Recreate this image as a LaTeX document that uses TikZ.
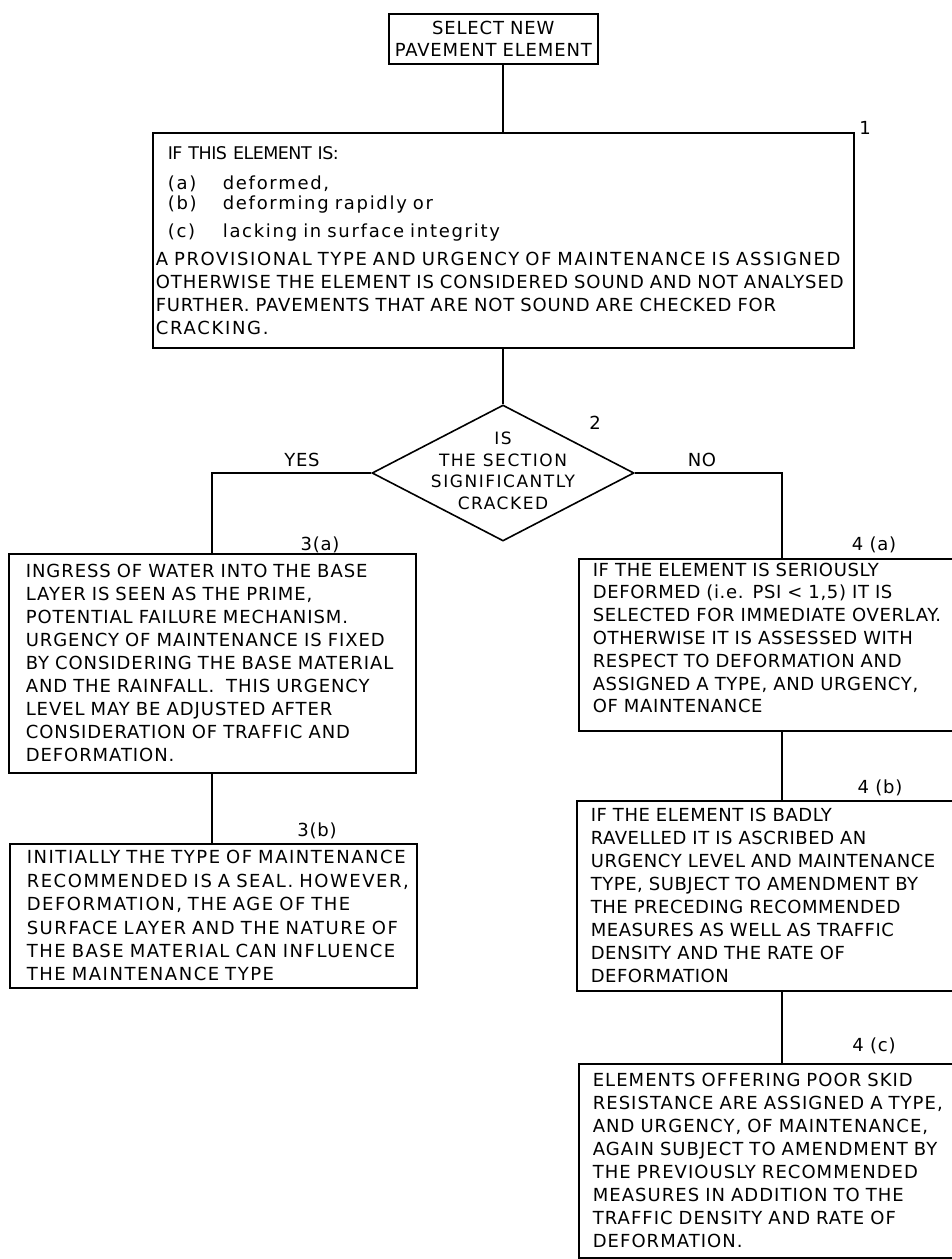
\documentclass[tikz,border=0pt]{standalone}
\usepackage{fontspec}
\usetikzlibrary{shapes.geometric}
\newfontfamily\fTop[LetterSpace=4.7]{DejaVu Sans}
\newfontfamily\fOne[LetterSpace=9.5]{DejaVu Sans}
\newfontfamily\fOneA[LetterSpace=9]{DejaVu Sans}
\newfontfamily\fOneB[LetterSpace=5.1]{DejaVu Sans}
\newfontfamily\fOneC[LetterSpace=4.5]{DejaVu Sans}
\newfontfamily\fOneD[LetterSpace=-3]{DejaVu Sans}
\newfontfamily\fDia[LetterSpace=9]{DejaVu Sans}
\newfontfamily\fThA[LetterSpace=5.2]{DejaVu Sans}
\newfontfamily\fThB[LetterSpace=8.5]{DejaVu Sans}
\newfontfamily\fFoA[LetterSpace=3.6]{DejaVu Sans}
\newfontfamily\fFoB[LetterSpace=3]{DejaVu Sans}
\newfontfamily\fFoC[LetterSpace=5.8]{DejaVu Sans}
\newfontfamily\fLbl[LetterSpace=4]{DejaVu Sans}
\newcommand{\oneline}[1]{\mbox{#1}}
\begin{document}
\begin{tikzpicture}[x=1pt,y=-1pt,
  box/.style={draw, line width=1.6pt, anchor=north west, align=left, inner ysep=0pt},
  lbl/.style={font=\fLbl\fontsize{18}{20}\selectfont, inner sep=0pt},
  conn/.style={line width=1.6pt}]
\useasboundingbox (0,0) rectangle (952,1259);

% top box
\node[box, align=center, minimum width=209pt, minimum height=50pt, text width=203pt, inner xsep=3pt,
      font=\fTop\fontsize{18}{22}\selectfont] (top) at (388,13) {\oneline{SELECT NEW}\\\oneline{PAVEMENT ELEMENT}};

% box 1
\node[box, minimum width=701pt, minimum height=215pt, text width=695pt, inner xsep=3pt,
      font=\fOne\fontsize{18}{23}\selectfont] (b1) at (152,132)
{\hspace*{12pt}\oneline{\fOneD\fontsize{17.5}{23}\selectfont IF THIS ELEMENT IS:}\\[7pt]
 \hspace*{12pt}\oneline{\makebox[55pt][l]{(a)}deformed,}\\[-3pt]
 \hspace*{12pt}\oneline{\makebox[55pt][l]{(b)}deforming rapidly or}\\[5pt]
 \hspace*{12pt}\oneline{\makebox[55pt][l]{(c)}lacking in surface integrity}\\[5pt]
 \oneline{\fOneA A PROVISIONAL TYPE AND URGENCY OF MAINTENANCE IS ASSIGNED}\\
 \oneline{\fOneB OTHERWISE THE ELEMENT IS CONSIDERED SOUND AND NOT ANALYSED}\\
 \oneline{\fOneC FURTHER. PAVEMENTS THAT ARE NOT SOUND ARE CHECKED FOR}\\
 \oneline{CRACKING.}};
\node[lbl] (l1) at (865,128) {1};

% decision
\node[draw, diamond, line width=1.6pt, minimum width=262pt, minimum height=136pt, inner sep=0pt] (dia) at (503,473) {};
\node[lbl, align=center, font=\fDia\fontsize{17}{21.5}\selectfont] (diat) at (503,471)
  {IS\\THE SECTION\\SIGNIFICANTLY\\CRACKED};
\node[lbl] (l2) at (595,423) {2};
\node[lbl] (yes) at (302,460) {YES};
\node[lbl] (no) at (702,460) {NO};

% box 3a
\node[box, minimum width=407pt, minimum height=219pt, text width=373pt, inner xsep=17pt,
      font=\fThA\fontsize{18}{23}\selectfont] (b3a) at (8,553)
{\oneline{INGRESS OF WATER INTO THE BASE}\\
\oneline{LAYER IS SEEN AS THE PRIME,}\\
\oneline{POTENTIAL FAILURE MECHANISM.}\\
\oneline{URGENCY OF MAINTENANCE IS FIXED}\\
\oneline{BY CONSIDERING THE BASE MATERIAL}\\
\oneline{AND THE RAINFALL.\ \ THIS URGENCY}\\
\oneline{LEVEL MAY BE ADJUSTED AFTER}\\
\oneline{CONSIDERATION OF TRAFFIC AND}\\
\oneline{DEFORMATION.}};
\node[lbl] (l3a) at (320,545) {3(a)};

% box 3b
\node[box, minimum width=407pt, minimum height=144pt, text width=373pt, inner xsep=17pt,
      font=\fThB\fontsize{18}{23.4}\selectfont] (b3b) at (9,843)
{\oneline{INITIALLY THE TYPE OF MAINTENANCE}\\
\oneline{RECOMMENDED IS A SEAL. HOWEVER,}\\
\oneline{DEFORMATION, THE AGE OF THE}\\
\oneline{SURFACE LAYER AND THE NATURE OF}\\
\oneline{THE BASE MATERIAL CAN INFLUENCE}\\
\oneline{THE MAINTENANCE TYPE}};
\node[lbl] (l3b) at (317,831) {3(b)};

% box 4a
\node[box, minimum width=384pt, minimum height=172pt, text width=356pt, inner xsep=14pt,
      font=\fFoA\fontsize{18}{22.8}\selectfont] (b4a) at (578,558)
{\oneline{IF THE ELEMENT IS SERIOUSLY}\\
\oneline{DEFORMED (i.e. PSI < 1,5) IT IS}\\
\oneline{SELECTED FOR IMMEDIATE OVERLAY.}\\
\oneline{OTHERWISE IT IS ASSESSED WITH}\\
\oneline{RESPECT TO DEFORMATION AND}\\
\oneline{ASSIGNED A TYPE, AND URGENCY,}\\
\oneline{OF MAINTENANCE\rule[-14pt]{0pt}{0pt}}};
\node[lbl] (l4a) at (874,545) {4 (a)};

% box 4b
\node[box, minimum width=386pt, minimum height=190pt, text width=358pt, inner xsep=14pt,
      font=\fFoB\fontsize{18}{23}\selectfont] (b4b) at (576,800)
{\oneline{IF THE ELEMENT IS BADLY}\\
\oneline{RAVELLED IT IS ASCRIBED AN}\\
\oneline{URGENCY LEVEL AND MAINTENANCE}\\
\oneline{TYPE, SUBJECT TO AMENDMENT BY}\\
\oneline{THE PRECEDING RECOMMENDED}\\
\oneline{MEASURES AS WELL AS TRAFFIC}\\
\oneline{DENSITY AND THE RATE OF}\\
\oneline{DEFORMATION}};
\node[lbl] (l4b) at (880,788) {4 (b)};

% box 4c
\node[box, minimum width=384pt, minimum height=194pt, text width=356pt, inner xsep=14pt,
      font=\fFoC\fontsize{18}{23}\selectfont] (b4c) at (578,1063)
{\oneline{ELEMENTS OFFERING POOR SKID}\\
\oneline{RESISTANCE ARE ASSIGNED A TYPE,}\\
\oneline{AND URGENCY, OF MAINTENANCE,}\\
\oneline{AGAIN SUBJECT TO AMENDMENT BY}\\
\oneline{THE PREVIOUSLY RECOMMENDED}\\
\oneline{MEASURES IN ADDITION TO THE}\\
\oneline{TRAFFIC DENSITY AND RATE OF}\\
\oneline{DEFORMATION.}};
\node[lbl] (l4c) at (874,1046) {4 (c)};

% connector end points on box tops
\coordinate (in3a) at (212,553);
\coordinate (in4a) at (782,558);

% connectors
\draw[conn] (top.south -| dia.north) -- (b1.north -| dia.north);
\draw[conn] (b1.south -| dia.north) -- (dia.north);
\draw[conn] (dia.west) -| (in3a);
\draw[conn] (dia.east) -| (in4a);
\draw[conn] (b3a.south -| in3a) -- (b3b.north -| in3a);
\draw[conn] (b4a.south -| in4a) -- (b4b.north -| in4a);
\draw[conn] (b4b.south -| in4a) -- (b4c.north -| in4a);
\end{tikzpicture}
\end{document}
